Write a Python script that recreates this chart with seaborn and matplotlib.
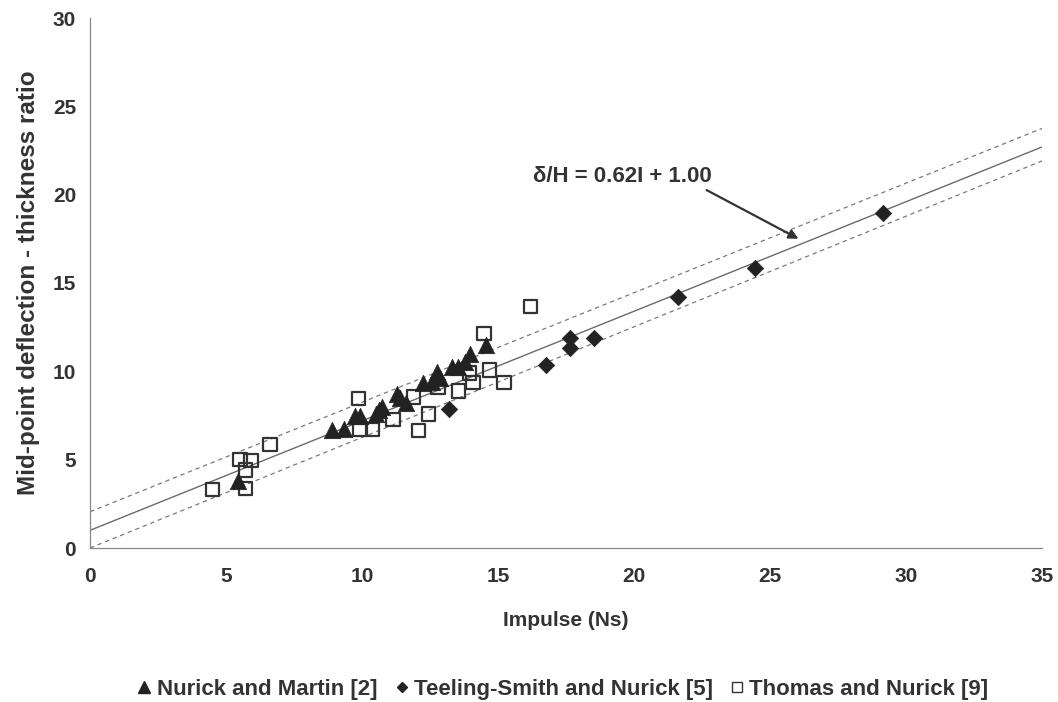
import numpy as np
import pandas as pd
import matplotlib
matplotlib.use("Agg")
import matplotlib.pyplot as plt
from matplotlib.lines import Line2D
import seaborn as sns

# Nurick and Martin [2]
nm_impulse = [5.45, 8.91, 9.35, 9.75, 9.93, 10.51, 10.64, 10.72, 11.27, 11.40,
              11.60, 12.25, 12.56, 12.74, 12.85, 13.30, 13.54, 13.79, 13.97, 14.56]
nm_ratio = [3.81, 6.68, 6.72, 7.47, 7.47, 7.58, 7.81, 7.96, 8.70, 8.50,
            8.20, 9.32, 9.41, 9.98, 9.60, 10.26, 10.26, 10.54, 11.00, 11.49]

# Teeling-Smith and Nurick [5]
tsn_impulse = [13.21, 16.76, 17.65, 17.65, 18.53, 21.60, 24.45, 29.14]
tsn_ratio = [7.85, 10.36, 11.90, 11.34, 11.87, 14.22, 15.86, 18.94]

# Thomas and Nurick [9]
tn_impulse = [4.51, 5.51, 5.91, 5.72, 5.72, 6.62, 9.87, 9.93, 10.39, 11.13, 11.89,
              12.07, 12.44, 12.80, 13.54, 13.95, 14.09, 14.49, 14.68, 15.22, 16.20]
tn_ratio = [3.32, 5.02, 4.94, 4.40, 3.38, 5.87, 8.47, 6.75, 6.72, 7.28, 8.56,
            6.64, 7.57, 9.10, 8.88, 9.92, 9.38, 12.15, 10.07, 9.38, 13.66]

# Fit line and its bounds
fit_slope, fit_intercept = 0.62, 1.00
upper_slope, upper_intercept = 0.62, 2.05
lower_slope, lower_intercept = 0.626, 0.0

series_labels = ["Nurick and Martin [2]", "Teeling-Smith and Nurick [5]",
                 "Thomas and Nurick [9]"]
x_ticks = [0, 5, 10, 15, 20, 25, 30, 35]
y_ticks = [0, 5, 10, 15, 20, 25, 30]

sns.set_theme(style="white")
plt.rcParams["font.family"] = ["Liberation Sans", "DejaVu Sans"]
plt.rcParams["font.weight"] = "bold"

text_col = "#333333"
mark_col = "#222222"

fig = plt.figure(figsize=(10.58, 7.02), dpi=100)
ax = fig.add_axes([90 / 1058, 1 - 548 / 702, (1042 - 90) / 1058, (548 - 18) / 702])

xs = np.array([0, 35])
line_df = pd.DataFrame({
    "x": np.concatenate([xs, xs, xs]),
    "y": np.concatenate([fit_slope * xs + fit_intercept,
                         upper_slope * xs + upper_intercept,
                         lower_slope * xs + lower_intercept]),
    "kind": ["fit"] * 2 + ["upper"] * 2 + ["lower"] * 2,
})
sns.lineplot(data=line_df[line_df.kind == "fit"], x="x", y="y", ax=ax,
             color="#6a6a6a", linewidth=1.0, legend=False)
for k in ["upper", "lower"]:
    sns.lineplot(data=line_df[line_df.kind == k], x="x", y="y", ax=ax,
                 color="#7a7a7a", linewidth=0.9, dashes=False, legend=False,
                 linestyle=(0, (3.5, 3)))

sns.scatterplot(x=tn_impulse, y=tn_ratio, ax=ax, marker="s", s=95,
                facecolors="none", edgecolor="#333333", linewidth=1.6, zorder=3)
sns.scatterplot(x=tsn_impulse, y=tsn_ratio, ax=ax, marker="D", s=70,
                color=mark_col, edgecolor=mark_col, linewidth=0.5, zorder=4)
sns.scatterplot(x=nm_impulse, y=nm_ratio, ax=ax, marker="^", s=140,
                color=mark_col, edgecolor=mark_col, linewidth=0.5, zorder=5)

ax.set_xlim(0, 35)
ax.set_ylim(0, 30)
ax.set_xticks(x_ticks)
ax.set_yticks(y_ticks)
ax.tick_params(axis="both", direction="out", length=5, width=0.8, color="#888888",
               labelsize=15, labelcolor=text_col)
ax.tick_params(axis="x", pad=9)
ax.tick_params(axis="y", pad=5)
for lab in ax.get_xticklabels() + ax.get_yticklabels():
    lab.set_fontweight("bold")

for side in ["top", "right"]:
    ax.spines[side].set_visible(False)
for side in ["left", "bottom"]:
    ax.spines[side].set_color("#888888")
    ax.spines[side].set_linewidth(0.9)

ax.set_xlabel("Impulse (Ns)", fontsize=15, fontweight="bold", color=text_col,
              labelpad=18)
ax.set_ylabel("Mid-point deflection - thickness ratio", fontsize=17.5,
              fontweight="bold", color=text_col, labelpad=9)

ax.text(16.3, 21.05, "δ/H = 0.62I + 1.00", fontsize=16, fontweight="bold",
        color=text_col, va="center", ha="left")
ax.annotate("", xy=(26.05, 17.5), xytext=(22.67, 20.26),
            arrowprops=dict(arrowstyle="-|>", color="#333333", lw=1.6,
                            mutation_scale=14, shrinkA=0, shrinkB=0))

handles = [
    Line2D([], [], marker="^", linestyle="none", color=mark_col, markersize=8),
    Line2D([], [], marker="D", linestyle="none", color=mark_col, markersize=5.5),
    Line2D([], [], marker="s", linestyle="none", markerfacecolor="none",
           markeredgecolor="#333333", markersize=7, markeredgewidth=1.0),
]
fig.legend(handles, series_labels, loc="center", bbox_to_anchor=(562 / 1058, 1 - 689 / 702),
           ncol=3, frameon=False, handletextpad=0.15, columnspacing=0.7,
           handlelength=0.8, labelcolor=text_col, prop={"weight": "bold", "size": 16})

fig.savefig("out.png", dpi=100, facecolor="white")
